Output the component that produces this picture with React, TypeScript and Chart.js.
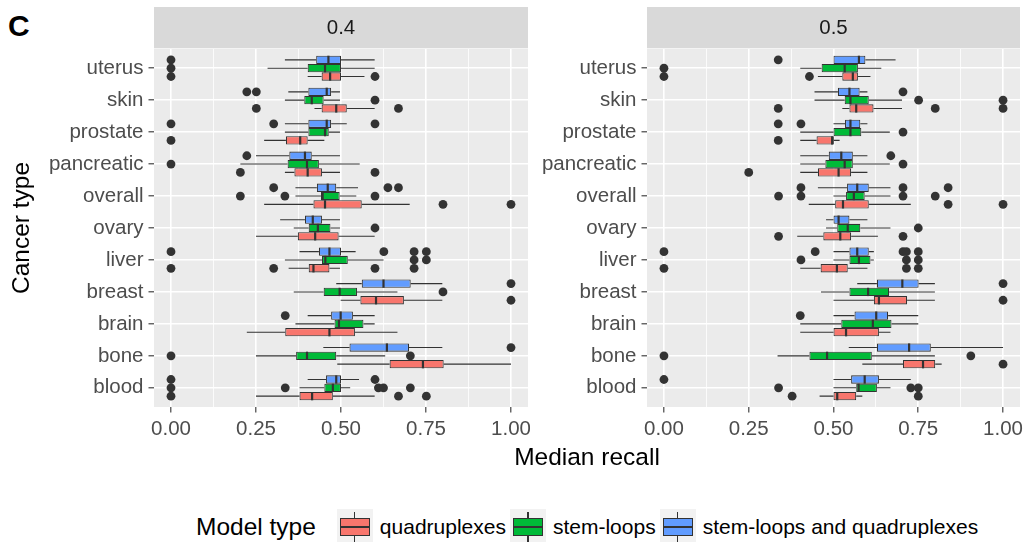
import React, { useEffect, useRef } from 'react';
import { Chart, registerables } from 'chart.js';

Chart.register(...registerables);

const FONT = "'Liberation Sans', Arial, Helvetica, sans-serif";

const categories = ['blood', 'bone', 'brain', 'breast', 'liver', 'ovary', 'overall', 'pancreatic', 'prostate', 'skin', 'uterus'];
const modelTypes = ['quadruplexes', 'stem-loops', 'stem-loops and quadruplexes'];
const modelColors = ['#F8766D', '#00BA38', '#619CFF'];
const facetLabels = ['0.4', '0.5'];
const majorTicks = [0, 0.25, 0.5, 0.75, 1];
const minorTicks = [0.125, 0.375, 0.625, 0.875];

// Five-number summaries per cancer type: [lower whisker, Q1, median, Q3, upper whisker]
const quadStats04 = [
  [0.25, 0.378, 0.415, 0.476, 0.599],
  [0.489, 0.643, 0.741, 0.802, 1.0],
  [0.223, 0.336, 0.466, 0.541, 0.666],
  [0.499, 0.557, 0.603, 0.685, 0.798],
  [0.346, 0.405, 0.419, 0.466, 0.497],
  [0.25, 0.373, 0.424, 0.493, 0.599],
  [0.274, 0.419, 0.453, 0.561, 0.702],
  [0.335, 0.363, 0.402, 0.444, 0.497],
  [0.274, 0.338, 0.38, 0.402, 0.451],
  [0.422, 0.443, 0.486, 0.517, 0.599],
  [0.402, 0.443, 0.468, 0.5, 0.569],
];
const stemStats04 = [
  [0.378, 0.451, 0.476, 0.5, 0.527],
  [0.25, 0.368, 0.4, 0.486, 0.63],
  [0.366, 0.481, 0.494, 0.566, 0.599],
  [0.361, 0.449, 0.496, 0.547, 0.666],
  [0.335, 0.444, 0.454, 0.52, 0.625],
  [0.361, 0.405, 0.432, 0.469, 0.497],
  [0.366, 0.441, 0.446, 0.496, 0.545],
  [0.204, 0.343, 0.4, 0.435, 0.555],
  [0.335, 0.404, 0.453, 0.464, 0.497],
  [0.335, 0.392, 0.414, 0.449, 0.497],
  [0.284, 0.402, 0.453, 0.5, 0.599],
];
const bothStats04 = [
  [0.402, 0.456, 0.486, 0.5, 0.553],
  [0.448, 0.525, 0.635, 0.7, 0.798],
  [0.402, 0.471, 0.499, 0.535, 0.599],
  [0.486, 0.561, 0.625, 0.705, 0.798],
  [0.378, 0.435, 0.466, 0.5, 0.543],
  [0.321, 0.394, 0.417, 0.444, 0.497],
  [0.366, 0.429, 0.461, 0.486, 0.55],
  [0.25, 0.348, 0.394, 0.414, 0.497],
  [0.335, 0.404, 0.458, 0.471, 0.517],
  [0.345, 0.404, 0.458, 0.471, 0.497],
  [0.335, 0.427, 0.463, 0.5, 0.599],
];

// Outlying medians per cancer type
const quadOut04 = [
  [0, 0.669, 0.751], [], [], [1.0], [0, 0.302, 0.6, 0.715], [],
  [0.8, 1.0], [0.204, 0.6], [0], [0.251, 0.669], [0, 0.6],
];
const stemOut04 = [
  [0, 0.336, 0.61, 0.625, 0.704], [0, 0.704], [], [0.8], [0.715, 0.751], [0.6],
  [0.204, 0.335, 0.6], [0], [], [0.6], [0],
];
const bothOut04 = [
  [0, 0.6], [1.0], [0.336], [1.0], [0, 0.626, 0.715, 0.751], [],
  [0.302, 0.638, 0.669], [0.223], [0, 0.302, 0.6], [0.223, 0.251], [0],
];

const quadStats05 = [
  [0.459, 0.5, 0.511, 0.567, 0.585],
  [0.585, 0.705, 0.764, 0.8, 0.819],
  [0.402, 0.5, 0.537, 0.634, 0.668],
  [0.5, 0.619, 0.634, 0.717, 0.799],
  [0.402, 0.462, 0.51, 0.542, 0.6],
  [0.393, 0.47, 0.52, 0.552, 0.631],
  [0.427, 0.505, 0.528, 0.604, 0.728],
  [0.402, 0.454, 0.515, 0.552, 0.6],
  [0.402, 0.45, 0.496, 0.501, 0.518],
  [0.526, 0.547, 0.567, 0.618, 0.702],
  [0.454, 0.526, 0.557, 0.572, 0.609],
];
const stemStats05 = [
  [0.5, 0.567, 0.574, 0.628, 0.668],
  [0.335, 0.429, 0.481, 0.613, 0.799],
  [0.402, 0.523, 0.616, 0.671, 0.75],
  [0.463, 0.547, 0.602, 0.664, 0.799],
  [0.5, 0.547, 0.575, 0.609, 0.619],
  [0.478, 0.511, 0.542, 0.579, 0.668],
  [0.5, 0.537, 0.56, 0.592, 0.668],
  [0.402, 0.476, 0.533, 0.557, 0.666],
  [0.402, 0.5, 0.55, 0.582, 0.666],
  [0.444, 0.533, 0.55, 0.604, 0.702],
  [0.402, 0.465, 0.533, 0.572, 0.641],
];
const bothStats05 = [
  [0.5, 0.552, 0.592, 0.634, 0.728],
  [0.545, 0.628, 0.723, 0.787, 1.0],
  [0.5, 0.562, 0.626, 0.661, 0.75],
  [0.57, 0.628, 0.703, 0.751, 0.799],
  [0.5, 0.547, 0.57, 0.604, 0.619],
  [0.478, 0.5, 0.515, 0.547, 0.6],
  [0.454, 0.54, 0.57, 0.604, 0.668],
  [0.402, 0.486, 0.523, 0.557, 0.6],
  [0.5, 0.534, 0.55, 0.579, 0.6],
  [0.444, 0.513, 0.547, 0.577, 0.6],
  [0.5, 0.5, 0.575, 0.594, 0.683],
];

const quadOut05 = [
  [0.378, 0.75], [1.0], [], [1.0], [0, 0.715, 0.75], [0.338, 0.705],
  [0.838, 1.0], [0.25], [0.337], [0.337, 0.8, 1.0], [0, 0.429],
];
const stemOut05 = [
  [0.338, 0.728, 0.75], [0, 0.905], [], [], [0.404, 0.715, 0.75], [0.75],
  [0.338, 0.404, 0.705, 0.8], [0.705], [0.705], [0.751, 1.0], [0],
];
const bothOut05 = [
  [0], [], [0.402], [1.0], [0, 0.446, 0.705, 0.715, 0.75], [],
  [0.404, 0.705, 0.838], [0.669], [0.337, 0.404], [0.705], [0.337],
];

type Panel = {
  label: string;
  stats: number[][][];
  outliers: number[][][];
  axisWidth: number;
  padRight: number;
  showTitle: boolean;
  width: number;
  left: number;
};

const panels: Panel[] = [
  {
    label: facetLabels[0],
    stats: [quadStats04, stemStats04, bothStats04],
    outliers: [quadOut04, stemOut04, bothOut04],
    axisWidth: 154,
    padRight: 2,
    showTitle: true,
    width: 530,
    left: 0,
  },
  {
    label: facetLabels[1],
    stats: [quadStats05, stemStats05, bothStats05],
    outliers: [quadOut05, stemOut05, bothOut05],
    axisWidth: 117,
    padRight: 4,
    showTitle: false,
    width: 494,
    left: 530,
  },
];

const CANVAS_H = 445;
const PANEL_BOTTOM = 407;
const STRIP_TOP = 7;
const INK = '#333333';
const TEXT_SIZE = 20.5;
const TITLE_SIZE = 24.5;

// Panel background, facet strip, whiskers, medians and outlier points
const boxParts = {
  id: 'boxParts',
  beforeDraw(chart: any, _args: any, opts: any) {
    const { ctx, chartArea: a } = chart;
    ctx.save();
    ctx.fillStyle = '#EBEBEB';
    ctx.fillRect(a.left, a.top, a.right - a.left, a.bottom - a.top);
    ctx.fillStyle = '#D9D9D9';
    ctx.fillRect(a.left, STRIP_TOP, a.right - a.left, a.top - STRIP_TOP - 0.7);
    ctx.fillStyle = '#1A1A1A';
    ctx.font = `${TEXT_SIZE}px ${FONT}`;
    ctx.textAlign = 'center';
    ctx.textBaseline = 'middle';
    ctx.fillText(opts.label, (a.left + a.right) / 2, (STRIP_TOP + a.top) / 2 + 0.5);
    ctx.restore();
  },
  afterDatasetsDraw(chart: any) {
    const { ctx } = chart;
    const xs = chart.scales.x;
    ctx.save();
    chart.data.datasets.forEach((ds: any, d: number) => {
      const meta = chart.getDatasetMeta(d);
      meta.data.forEach((bar: any, i: number) => {
        const [lo, q1, med, q3, hi] = ds.stats[i];
        const y = bar.y;
        const h = bar.height;
        ctx.strokeStyle = INK;
        ctx.lineWidth = 1.1;
        ctx.beginPath();
        ctx.moveTo(xs.getPixelForValue(lo), y);
        ctx.lineTo(xs.getPixelForValue(q1), y);
        ctx.moveTo(xs.getPixelForValue(q3), y);
        ctx.lineTo(xs.getPixelForValue(hi), y);
        ctx.stroke();
        const xm = xs.getPixelForValue(med);
        ctx.lineWidth = 2.2;
        ctx.beginPath();
        ctx.moveTo(xm, y - h / 2);
        ctx.lineTo(xm, y + h / 2);
        ctx.stroke();
        ctx.fillStyle = INK;
        ds.outliers[i].forEach((v: number) => {
          ctx.beginPath();
          ctx.arc(xs.getPixelForValue(v), y, 4.4, 0, Math.PI * 2);
          ctx.fill();
        });
      });
    });
    ctx.restore();
  },
};

function makeChart(canvas: HTMLCanvasElement, panel: Panel) {
  // top-to-bottom order inside each category: both, stem-loops, quadruplexes
  const order = [2, 1, 0];
  const datasets = order.map((m) => ({
    label: modelTypes[m],
    data: panel.stats[m].map((s, i) => ({ x: [s[1], s[3]], y: i })),
    backgroundColor: modelColors[m],
    borderColor: INK,
    borderWidth: 1.1,
    borderSkipped: false,
    categoryPercentage: 0.78,
    barPercentage: 1,
    stats: panel.stats[m],
    outliers: panel.outliers[m],
  }));
  const xTicks = [...majorTicks, ...minorTicks].sort((a, b) => a - b);
  const isMajor = (v: any) => majorTicks.includes(v);

  return new Chart(canvas, {
    type: 'bar',
    data: { datasets: datasets as any },
    plugins: [boxParts as any],
    options: {
      indexAxis: 'y',
      animation: false,
      responsive: false,
      maintainAspectRatio: false,
      devicePixelRatio: 1,
      layout: { padding: { top: 49, right: panel.padRight, left: 0, bottom: 0 } },
      plugins: {
        legend: { display: false },
        tooltip: { enabled: false },
        boxParts: { label: panel.label },
      } as any,
      scales: {
        x: {
          type: 'linear',
          min: -0.05,
          max: 1.05,
          offset: false,
          afterBuildTicks: (s: any) => {
            s.ticks = xTicks.map((v) => ({ value: v }));
          },
          afterFit: (s: any) => {
            s.height = CANVAS_H - PANEL_BOTTOM;
            s.paddingLeft = 0;
            s.paddingRight = 0;
          },
          border: { display: false },
          grid: {
            offset: false,
            color: '#FFFFFF',
            lineWidth: (c: any) => (isMajor(c.tick?.value) ? 1.6 : 0.8),
            tickColor: (c: any) => (isMajor(c.tick?.value) ? INK : 'rgba(0,0,0,0)'),
            tickLength: 5.5,
            tickWidth: 1.1,
          },
          ticks: {
            autoSkip: false,
            maxRotation: 0,
            padding: 5,
            color: '#4D4D4D',
            font: { family: FONT, size: TEXT_SIZE },
            callback: (v: any) => (isMajor(v) ? Number(v).toFixed(2) : ''),
          },
        },
        y: {
          type: 'linear',
          min: -0.6,
          max: 10.6,
          offset: false,
          afterBuildTicks: (s: any) => {
            s.ticks = categories.map((_, i) => ({ value: i }));
          },
          afterFit: (s: any) => {
            s.width = panel.axisWidth;
            s.paddingTop = 0;
            s.paddingBottom = 0;
          },
          border: { display: false },
          grid: {
            offset: false,
            color: '#FFFFFF',
            lineWidth: 1.6,
            tickColor: INK,
            tickLength: 5.5,
            tickWidth: 1.1,
          },
          ticks: {
            autoSkip: false,
            padding: 5,
            color: '#4D4D4D',
            font: { family: FONT, size: TEXT_SIZE },
            callback: (v: any) => categories[v],
          },
          title: {
            display: panel.showTitle,
            text: 'Cancer type',
            color: '#000000',
            font: { family: FONT, size: TITLE_SIZE },
            padding: { top: 8, bottom: 0 },
          },
        },
      },
    } as any,
  });
}

function LegendKey({ color }: { color: string }) {
  return (
    <div style={{ position: 'relative', width: 36, height: 36, background: '#F2F2F2', flex: 'none' }}>
      <div style={{ position: 'absolute', left: 17.5, top: 3, width: 1.1, height: 30, background: INK }} />
      <div
        style={{
          position: 'absolute',
          left: 3,
          top: 9,
          width: 30,
          height: 18,
          background: color,
          border: `1.1px solid ${INK}`,
          boxSizing: 'border-box',
        }}
      />
      <div style={{ position: 'absolute', left: 3, top: 17, width: 30, height: 2, background: INK }} />
    </div>
  );
}

export default function App() {
  const leftRef = useRef<HTMLCanvasElement>(null);
  const rightRef = useRef<HTMLCanvasElement>(null);

  useEffect(() => {
    const charts = [leftRef.current, rightRef.current].map((c, i) => makeChart(c as HTMLCanvasElement, panels[i]));
    return () => charts.forEach((c) => c.destroy());
  }, []);

  return (
    <div
      style={{
        position: 'fixed',
        left: 0,
        top: 0,
        width: 1024,
        height: 542,
        background: '#FFFFFF',
        overflow: 'hidden',
        fontFamily: FONT,
      }}
    >
      <div style={{ position: 'absolute', left: 8, top: 11, fontSize: 30, lineHeight: '30px', fontWeight: 700 }}>C</div>
      <canvas
        ref={leftRef}
        width={panels[0].width}
        height={CANVAS_H}
        style={{ position: 'absolute', left: panels[0].left, top: 0, width: panels[0].width, height: CANVAS_H }}
      />
      <canvas
        ref={rightRef}
        width={panels[1].width}
        height={CANVAS_H}
        style={{ position: 'absolute', left: panels[1].left, top: 0, width: panels[1].width, height: CANVAS_H }}
      />
      <div
        style={{
          position: 'absolute',
          left: 154,
          width: 866,
          top: 443,
          fontSize: TITLE_SIZE,
          lineHeight: '28px',
          textAlign: 'center',
          color: '#000000',
        }}
      >
        Median recall
      </div>
      <div style={{ position: 'absolute', left: 196, top: 509, display: 'flex', alignItems: 'center', height: 36 }}>
        <span style={{ fontSize: TITLE_SIZE, marginRight: 21, whiteSpace: 'nowrap' }}>Model type</span>
        {modelTypes.map((m, i) => (
          <React.Fragment key={m}>
            <LegendKey color={modelColors[i]} />
            <span style={{ fontSize: 21, marginLeft: 7, marginRight: 4, whiteSpace: 'nowrap' }}>{m}</span>
          </React.Fragment>
        ))}
      </div>
    </div>
  );
}
